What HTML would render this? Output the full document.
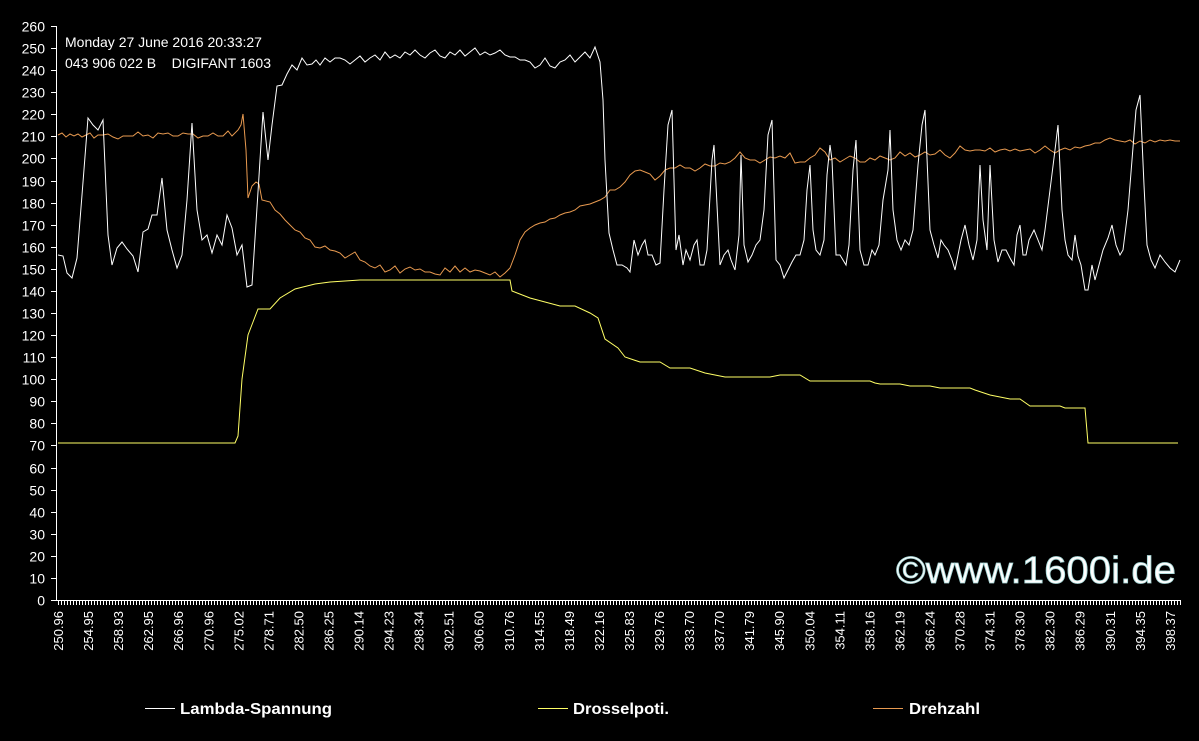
<!DOCTYPE html>
<html><head><meta charset="utf-8"><style>
html,body{margin:0;padding:0;background:#000;}
svg{display:block;}
text{font-family:"Liberation Sans",sans-serif;fill:#fff;}
</style></head><body>
<svg id="s" width="1199" height="741" viewBox="0 0 1199 741" xmlns="http://www.w3.org/2000/svg">
<rect width="1199" height="741" fill="#000"/>
<g id="ax" stroke="#fff" stroke-width="1" fill="none">
<line x1="56.5" y1="26" x2="56.5" y2="600.5"/>
<line x1="56" y1="600.5" x2="1181" y2="600.5"/>
</g>
<g id="yl" font-size="14" text-anchor="end"></g>
<g id="xl" font-size="13"></g>
<text x="65" y="47" font-size="14">Monday 27 June 2016 20:33:27</text>
<text x="65" y="68" font-size="14">043 906 022 B&#160;&#160;&#160;&#160;DIGIFANT 1603</text>
<text x="896" y="583" font-size="38" textLength="280" lengthAdjust="spacingAndGlyphs" fill="#000" stroke="#a8d8d8" stroke-width="0.8">©www.1600i.de</text>
<polyline fill="none" stroke="#ffff66" stroke-width="1" points="58,443 235,443 238,436 242,379 248,335 253,322 258,309 270,309 280,298 295,289 315,284 330,282 345,281 360,280 510,280 512,291 530,298 545,302 560,306 575,306 590,313 598,318 605,339 618,348 625,357 640,362 660,362 670,368 690,368 705,373 725,377 770,377 780,375 800,375 810,381 870,381 875,383 880,384 900,384 910,386 930,386 940,388 970,388 975,390 990,395 1010,399 1020,399 1030,406 1060,406 1065,408 1085,408 1088,443 1178,443"/>
<polyline fill="none" stroke="#e89a50" stroke-width="1" points="58,135 62,133 66,137 70,134 74,136 78,134 82,137 86,135 90,133 94,138 98,135 103,135 108,134 113,137 118,139 123,136 128,136 133,136 138,132 143,136 148,135 153,138 158,133 163,134 168,133 173,136 178,136 183,133 188,134 193,134 198,138 203,136 208,136 213,133 218,136 223,136 228,131 232,136 238,130 241,125 243,114 246,150 248,198 252,186 256,182 259,184 262,200 270,202 275,210 280,214 285,220 290,225 295,230 300,232 305,238 310,240 315,247 320,248 325,246 330,250 335,251 340,253 345,258 350,255 355,252 360,260 365,262 370,266 375,268 380,265 385,272 390,270 395,266 400,273 405,269 410,267 415,270 420,269 425,272 430,272 435,274 440,275 445,268 450,272 455,266 460,272 465,268 470,272 475,270 480,271 485,273 490,275 495,272 500,277 505,273 510,268 515,255 520,240 525,232 530,228 535,225 540,223 545,222 550,219 555,218 560,215 565,213 570,212 575,210 580,206 585,205 590,204 595,202 600,200 605,197 610,190 615,190 620,187 625,182 630,175 635,171 640,170 645,172 650,174 655,180 660,176 665,170 670,168 675,168 680,165 685,168 690,168 695,171 700,168 705,164 710,166 715,166 720,163 725,164 730,162 735,158 740,152 745,158 750,160 755,160 760,163 765,160 770,157 775,158 780,156 785,158 790,153 795,163 800,162 805,162 810,158 815,155 820,148 825,152 830,160 835,158 840,162 845,159 850,156 855,158 860,162 865,162 870,158 875,160 880,156 885,158 890,160 895,158 900,152 905,156 910,153 915,157 920,155 925,152 930,155 935,154 940,150 945,155 950,158 955,153 960,146 965,150 970,151 975,150 980,150 985,151 990,148 995,152 1000,150 1005,149 1010,151 1015,149 1020,151 1025,150 1030,149 1035,153 1040,150 1045,146 1050,150 1055,153 1060,150 1065,148 1070,150 1075,147 1080,148 1085,146 1090,145 1095,143 1100,143 1105,140 1110,138 1115,140 1120,141 1125,142 1130,140 1135,144 1140,141 1145,143 1150,140 1155,142 1160,140 1165,141 1170,140 1175,141 1180,141"/>
<polyline fill="none" stroke="#fff" stroke-width="1" points="58,255 63,256 67,273 72,278 77,258 82,195 88,118 93,125 98,130 103,120 108,235 112,265 117,248 122,242 127,249 133,256 138,272 143,232 148,229 152,215 157,215 162,178 167,230 172,250 177,268 182,255 187,200 192,123 197,210 202,240 207,235 212,253 217,235 222,245 227,215 232,228 237,255 242,245 247,287 252,285 258,192 263,112 268,160 272,125 277,86 282,85 287,74 292,65 297,70 302,58 307,65 312,64 316,60 320,65 325,58 330,62 335,58 340,58 345,60 350,64 355,60 360,56 365,62 370,58 375,55 380,60 385,52 390,58 395,55 400,58 405,52 410,55 415,50 420,55 425,58 430,53 435,50 440,56 445,58 450,52 455,55 460,50 465,56 470,52 475,48 480,55 485,52 490,55 495,53 500,50 505,55 510,57 515,57 520,60 525,60 530,62 535,68 540,65 545,58 550,66 555,68 560,62 565,60 570,55 575,62 580,57 585,52 590,58 595,47 600,62 603,100 605,160 609,233 613,250 617,265 622,265 627,268 630,272 634,240 638,255 642,245 645,240 648,255 652,255 656,265 660,263 664,190 668,125 672,110 676,250 679,235 683,265 686,250 690,260 694,245 697,240 700,265 704,265 707,250 712,160 714,145 720,265 724,255 728,250 731,260 735,270 739,235 741,155 744,245 748,262 752,255 756,245 760,240 764,210 768,135 772,120 776,260 780,265 784,278 788,270 792,262 796,255 800,255 804,240 807,190 810,165 813,230 816,250 820,255 824,240 827,175 830,145 832,160 836,255 840,255 843,260 846,265 849,245 853,170 856,140 860,250 864,265 868,265 872,250 875,255 879,245 883,200 888,170 890,130 893,210 897,240 901,250 905,240 909,245 913,230 918,165 922,125 925,110 930,230 934,245 938,258 941,240 944,245 948,250 952,260 955,270 958,255 961,240 965,225 969,245 973,260 977,240 980,165 983,220 987,250 990,165 994,240 998,262 1002,250 1006,250 1010,258 1014,265 1017,235 1020,225 1023,255 1026,255 1029,240 1034,230 1038,240 1042,250 1045,230 1050,190 1055,150 1058,125 1062,210 1065,240 1068,255 1072,260 1075,235 1078,256 1081,265 1085,290 1088,290 1092,265 1095,280 1099,265 1103,250 1108,238 1112,225 1116,245 1120,255 1123,250 1128,210 1132,160 1136,110 1140,95 1144,185 1147,245 1151,260 1155,268 1160,255 1165,262 1170,268 1175,272 1180,260"/>
<line x1="145" y1="708.5" x2="175" y2="708.5" stroke="#fff"/>
<text x="180" y="714" font-size="16" font-weight="bold" textLength="152" lengthAdjust="spacingAndGlyphs">Lambda-Spannung</text>
<line x1="538" y1="708.5" x2="568" y2="708.5" stroke="#ffff66"/>
<text x="573" y="714" font-size="16" font-weight="bold" textLength="96" lengthAdjust="spacingAndGlyphs">Drosselpoti.</text>
<line x1="873" y1="708.5" x2="903" y2="708.5" stroke="#e89a50"/>
<text x="909" y="714" font-size="16" font-weight="bold" textLength="71" lengthAdjust="spacingAndGlyphs">Drehzahl</text>
</svg>
<script>
var NS="http://www.w3.org/2000/svg",ax=document.getElementById("ax"),yl=document.getElementById("yl"),xl=document.getElementById("xl");
function el(p,t,a){var e=document.createElementNS(NS,t);for(var k in a)e.setAttribute(k,a[k]);p.appendChild(e);return e;}
for(var v=0;v<=260;v+=10){var y=Math.round(600-v*574/260)+0.5;el(ax,"line",{x1:51,y1:y,x2:56,y2:y});var t=el(yl,"text",{x:45,y:y+5});t.textContent=v;}
for(var x=58;x<=1181;x+=3){el(ax,"line",{x1:x+0.5,y1:600,x2:x+0.5,y2:605});}
var L="250.96 254.95 258.93 262.95 266.96 270.96 275.02 278.71 282.50 286.25 290.14 294.23 298.34 302.51 306.60 310.76 314.55 318.49 322.16 325.83 329.76 333.70 337.70 341.79 345.90 350.04 354.11 358.16 362.19 366.24 370.28 374.31 378.30 382.30 386.29 390.31 394.35 398.37".split(" ");
for(var i=0;i<L.length;i++){var cx=58+i*30.05+5;var t=el(xl,"text",{transform:"translate("+cx+",611) rotate(-90)","text-anchor":"end"});t.textContent=L[i];}
</script>
</body></html>
